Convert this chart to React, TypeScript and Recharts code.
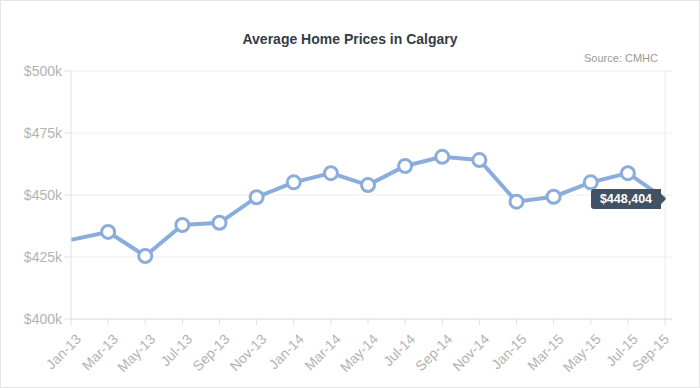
import { LineChart, Line, XAxis, YAxis, CartesianGrid, ReferenceLine } from "recharts";

const months = [
    "Jan-13", "Mar-13", "May-13", "Jul-13", "Sep-13", "Nov-13",
    "Jan-14", "Mar-14", "May-14", "Jul-14", "Sep-14", "Nov-14",
    "Jan-15", "Mar-15", "May-15", "Jul-15", "Sep-15"
];

const prices = [
    431900, 435100, 425400, 437900, 438800, 449100,
    455100, 458800, 454000, 461700, 465400, 464100,
    447300, 449300, 455100, 458800, 448404
];

const yTicks = [400000, 425000, 450000, 475000, 500000];

const data = months.map((m, i) => ({ month: m, price: prices[i] }));

const font = "'Liberation Sans', Helvetica, Arial, sans-serif";
const blue = "#8aaddb";

const XTick = (props: any) => {
    const { x, y, payload, index } = props;
    // the last label is pushed back inside the chart
    const dx = index === months.length - 1 ? 5 : 11;
    const dy = 13;
    return (
        <text
            x={x + dx}
            y={y + dy}
            textAnchor="end"
            fill="#b3b3b3"
            fontSize={14}
            fontFamily={font}
            transform={`rotate(-45, ${x + dx}, ${y + dy})`}
        >
            {payload.value}
        </text>
    );
};

const Dot = (props: any) => {
    const { cx, cy, index, value } = props;
    if (index === 0) return <g key={index} />;
    if (index === prices.length - 1) {
        const v = Array.isArray(value) ? value[1] : value;
        const label = "$" + v.toLocaleString("en-US");
        const r = cx - 4;
        const l = r - 70;
        return (
            <g key={index}>
                <path
                    d={`M${l + 3},${cy - 10} L${r},${cy - 10} L${r},${cy - 5} L${cx + 1},${cy} L${r},${cy + 5} L${r},${cy + 10} L${l + 3},${cy + 10} Q${l},${cy + 10} ${l},${cy + 7} L${l},${cy - 7} Q${l},${cy - 10} ${l + 3},${cy - 10} Z`}
                    fill="#405263"
                />
                <text
                    x={(l + r) / 2}
                    y={cy + 4.5}
                    textAnchor="middle"
                    fill="#ffffff"
                    fontSize={12.5}
                    fontWeight="bold"
                    fontFamily={font}
                >
                    {label}
                </text>
            </g>
        );
    }
    return (
        <circle key={index} cx={cx} cy={cy} r={6.5} fill="#ffffff" stroke={blue} strokeWidth={3} />
    );
};

export default function App() {
    return (
        <div
            style={{
                position: "absolute",
                left: 0,
                top: 0,
                width: 700,
                height: 388,
                border: "1px solid #e6e6e6",
                boxSizing: "border-box",
                background: "#fff",
                fontFamily: font
            }}
        >
            <div
                style={{
                    position: "absolute",
                    top: 30,
                    left: 0,
                    width: 698,
                    textAlign: "center",
                    fontSize: 14,
                    fontWeight: "bold",
                    color: "#333d47"
                }}
            >
                Average Home Prices in Calgary
            </div>
            <div
                style={{
                    position: "absolute",
                    top: 51,
                    right: 41,
                    fontSize: 11,
                    color: "#999"
                }}
            >
                Source: CMHC
            </div>
            <div style={{ position: "absolute", left: -1, top: -1 }}>
                <LineChart
                    width={700}
                    height={388}
                    data={data}
                    margin={{ top: 71, right: 28, left: 0, bottom: 0 }}
                >
                    <CartesianGrid stroke="#ececec" vertical={false} />
                    <ReferenceLine x="Sep-15" stroke="#ececec" />
                    <XAxis
                        dataKey="month"
                        interval={0}
                        height={69}
                        padding={{ left: 0, right: 7 }}
                        stroke="#e0e0e0"
                        tickSize={6}
                        tick={<XTick />}
                    />
                    <YAxis
                        domain={[400000, 500000]}
                        ticks={yTicks}
                        width={71}
                        stroke="#e0e0e0"
                        tickSize={7}
                        tickFormatter={(v: number) => `$${v / 1000}k`}
                        tick={{ fill: "#b3b3b3", fontSize: 14, fontFamily: font }}
                    />
                    <Line
                        type="linear"
                        dataKey="price"
                        stroke={blue}
                        strokeWidth={4}
                        dot={Dot}
                        activeDot={false}
                        isAnimationActive={false}
                    />
                </LineChart>
            </div>
        </div>
    );
}
